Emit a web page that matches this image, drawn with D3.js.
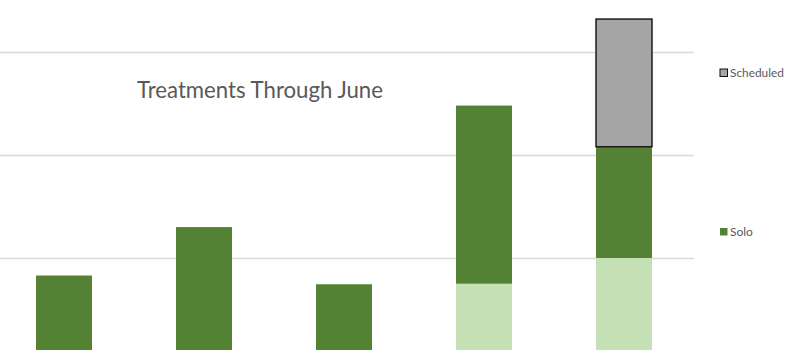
<!DOCTYPE html>
<html>
<head>
<meta charset="utf-8">
<script src="https://cdn.jsdelivr.net/npm/d3@7"></script>
<style>
  html, body { margin: 0; padding: 0; background: #ffffff; overflow: hidden; }
  svg { display: block; }
</style>
</head>
<body>
<svg id="chart" width="800" height="350"></svg>
<script>
// Monthly treatment counts, stacked by type
const months = ["Feb", "Mar", "Apr", "May", "Jun"];
const groupValues = [0, 0, 0, 7.5, 10];
const soloValues = [8.3, 13.0, 7.45, 17.3, 10.8];
const scheduledValues = [0, 0, 0, 0, 12.4];
const gridTicks = [10, 20, 30];

const seriesKeys = ["group", "solo", "scheduled"];
const colors = { group: "#C5E0B4", solo: "#548235", scheduled: "#A5A5A5" };
const legendItems = [
  { key: "scheduled", label: "Scheduled", y: 73 },
  { key: "solo", label: "Solo", y: 232 }
];

const rows = months.map((m, i) => ({
  month: m,
  group: groupValues[i],
  solo: soloValues[i],
  scheduled: scheduledValues[i]
}));

const svg = d3.select("#chart");
const fontFamily = "Lato, 'Open Sans', 'Liberation Sans', sans-serif";

const x = d3.scaleBand()
  .domain(months)
  .range([-6, 694])
  .paddingInner(0.6)
  .paddingOuter(0.3);

const y = d3.scaleLinear()
  .domain([0, 35])
  .range([361, 0.5]);

// Horizontal gridlines
svg.append("g")
  .selectAll("line")
  .data(gridTicks)
  .join("line")
  .attr("x1", 0)
  .attr("x2", 694)
  .attr("y1", d => Math.round(y(d)) + 0.5)
  .attr("y2", d => Math.round(y(d)) + 0.5)
  .attr("stroke", "#D9D9D9")
  .attr("stroke-width", 1.3);

// Stacked bars
const stacked = d3.stack().keys(seriesKeys)(rows);

svg.append("g")
  .selectAll("g")
  .data(stacked)
  .join("g")
  .attr("fill", s => colors[s.key])
  .attr("stroke", s => s.key === "scheduled" ? "#111111" : "none")
  .attr("stroke-width", s => s.key === "scheduled" ? 1.4 : 0)
  .selectAll("rect")
  .data(s => s.filter(d => d[1] - d[0] > 0))
  .join("rect")
  .attr("x", d => x(d.data.month))
  .attr("width", x.bandwidth())
  .attr("y", d => y(d[1]))
  .attr("height", d => y(d[0]) - y(d[1]));

// Scale a text element's font size so it spans the given width
function fitWidth(sel, base, width) {
  const w = sel.node().getComputedTextLength();
  sel.attr("font-size", base * width / w);
}

// Title
const title = svg.append("text")
  .attr("x", 137)
  .attr("y", 98)
  .attr("fill", "#595959")
  .attr("font-family", fontFamily)
  .attr("font-size", 22)
  .text("Treatments Through June");
fitWidth(title, 22, 246);

// Legend
const legend = svg.append("g")
  .selectAll("g")
  .data(legendItems)
  .join("g");

legend.append("rect")
  .attr("x", 720)
  .attr("y", d => d.y - 4)
  .attr("width", 7.5)
  .attr("height", 7.5)
  .attr("fill", d => colors[d.key])
  .attr("stroke", d => d.key === "scheduled" ? "#111111" : "none")
  .attr("stroke-width", 1);

legend.append("text")
  .attr("x", 730)
  .attr("y", d => d.y)
  .attr("dy", "0.36em")
  .attr("fill", "#595959")
  .attr("font-family", fontFamily)
  .attr("font-size", 12)
  .text(d => d.label)
  .each(function (d) {
    if (d.key === "scheduled") fitWidth(d3.select(this), 12, 54);
  });
</script>
</body>
</html>
